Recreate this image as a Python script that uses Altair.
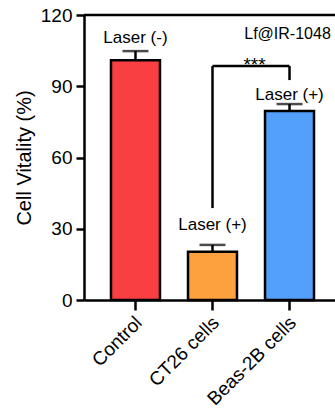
import altair as alt
import pandas as pd

# Cell vitality per group (mean and SD, %)
groups = ["Control", "CT26 cells", "Beas-2B cells"]
vitality = [101.0, 20.3, 79.6]
sd = [3.8, 2.9, 2.9]
bar_colors = ["#FA3F42", "#FDA03E", "#53A0FA"]

# Laser condition labels above each bar
laser_text = ["Laser (-)", "Laser (+)", "Laser (+)"]
laser_y = [110.3, 31.6, 86.3]

# Significance bracket between CT26 and Beas-2B
bracket_top = 98.5
bracket_pairs = ["CT26 cells", "Beas-2B cells"]
bracket_feet = [38.7, 92.6]

# y ticks every 15, labelled every 30
y_ticks = [0, 15, 30, 45, 60, 75, 90, 105, 120]

FONT = "Liberation Sans"

df = pd.DataFrame({
    "group": groups,
    "v": vitality,
    "upper": [m + s for m, s in zip(vitality, sd)],
    "laser": laser_text,
    "laser_y": laser_y,
})

y_scale = alt.Scale(domain=[0, 120], nice=False, zero=True)
x_scale = alt.Scale(domain=groups, paddingInner=0.364, paddingOuter=0.3115, align=0.5625)

x_enc = alt.X(
    "group:N",
    scale=x_scale,
    axis=alt.Axis(
        title=None, labelAngle=315, labelFontSize=19, labelFont=FONT,
        tickSize=10, labelPadding=3, labelOffset=-3, labelColor="black",
    ),
)

base = alt.Chart(df)

bars = base.mark_bar(stroke="black", strokeWidth=2.5).encode(
    x=x_enc,
    y=alt.Y(
        "v:Q", scale=y_scale,
        axis=alt.Axis(
            values=y_ticks, title="Cell Vitality (%)", titleFont=FONT,
            titleFontSize=20, titleFontWeight="normal", titlePadding=6,
            labelFont=FONT, labelFontSize=19, labelPadding=4,
            labelExpr="datum.value % 30 === 0 ? datum.label : ''",
            tickSize={"condition": {"test": "datum.value % 30 === 0", "value": 8}, "value": 4},
            labelColor="black", titleColor="black",
        ),
    ),
    color=alt.Color("group:N", scale=alt.Scale(domain=groups, range=bar_colors), legend=None),
)

err = base.mark_rule(color="black", strokeWidth=2.5).encode(
    x=alt.X("group:N", scale=x_scale),
    y=alt.Y("v:Q", scale=y_scale),
    y2="upper:Q",
)

caps = base.mark_tick(color="black", thickness=2.5, size=26).encode(
    x=alt.X("group:N", scale=x_scale),
    y=alt.Y("upper:Q", scale=y_scale),
)

laser_labels = base.mark_text(font=FONT, fontSize=17, baseline="middle", color="black").encode(
    x=alt.X("group:N", scale=x_scale),
    y=alt.Y("laser_y:Q", scale=y_scale),
    text="laser:N",
)

bracket_h = alt.Chart(pd.DataFrame({"a": [bracket_pairs[0]], "b": [bracket_pairs[1]], "y": [bracket_top]})).mark_rule(
    color="black", strokeWidth=2.5
).encode(
    x=alt.X("a:N", scale=x_scale), x2="b:N", y=alt.Y("y:Q", scale=y_scale)
)

bracket_v = alt.Chart(pd.DataFrame({"g": bracket_pairs, "top": [bracket_top] * 2, "foot": bracket_feet})).mark_rule(
    color="black", strokeWidth=2.5
).encode(
    x=alt.X("g:N", scale=x_scale), y=alt.Y("top:Q", scale=y_scale), y2="foot:Q"
)

stars = alt.Chart(pd.DataFrame({"g": [bracket_pairs[1]], "y": [bracket_top], "t": ["***"]})).mark_text(
    font=FONT, fontSize=19, baseline="alphabetic", dx=-35, dy=5, color="black"
).encode(
    x=alt.X("g:N", scale=x_scale), y=alt.Y("y:Q", scale=y_scale), text="t:N"
)

probe = alt.Chart(pd.DataFrame({"g": ["Beas-2B cells"], "y": [112.0], "t": ["Lf@IR-1048"]})).mark_text(
    font=FONT, fontSize=16, baseline="middle", dx=-2, color="black"
).encode(
    x=alt.X("g:N", scale=x_scale), y=alt.Y("y:Q", scale=y_scale), text="t:N"
)

top_line = alt.Chart(pd.DataFrame({"y": [120]})).mark_rule(color="black", strokeWidth=2.5).encode(
    y=alt.Y("y:Q", scale=y_scale)
)

chart = (
    alt.layer(bars, err, caps, laser_labels, bracket_h, bracket_v, stars, probe, top_line)
    .properties(
        width=251, height=285,
        autosize=alt.AutoSizeParams(type="none"),
        padding={"left": 84, "top": 15, "right": 0, "bottom": 114},
    )
    .configure_view(stroke=None)
    .configure_axis(domainColor="black", tickColor="black", domainWidth=2.5, tickWidth=2.5, grid=False)
)

chart.save("out.html", embed_options={"renderer": "svg", "actions": False})
